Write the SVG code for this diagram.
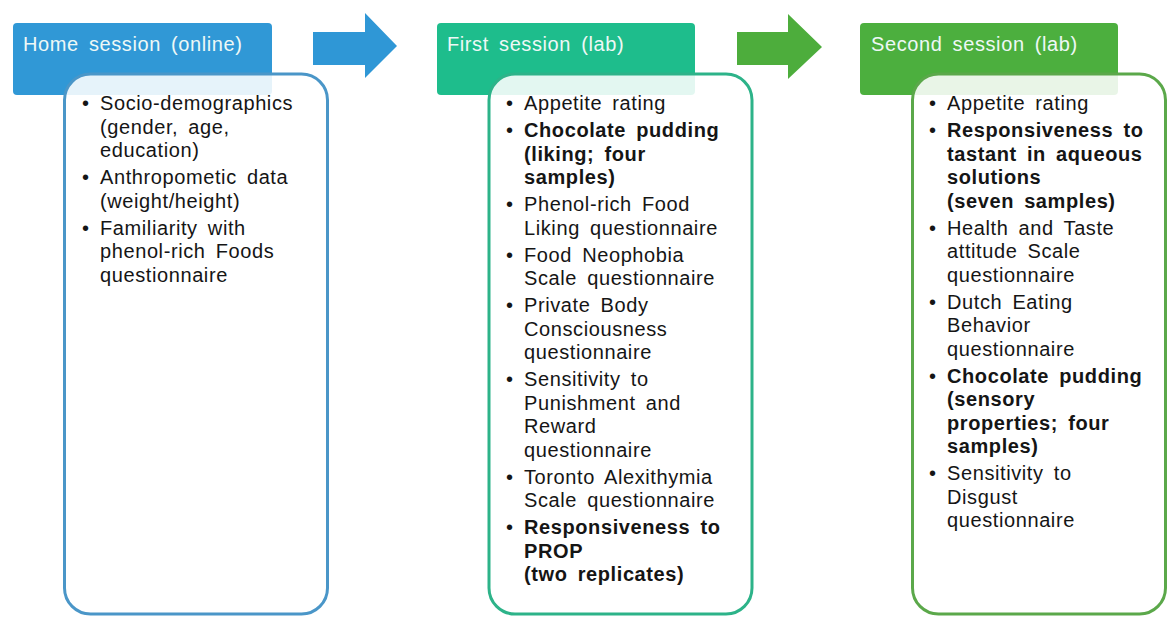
<svg xmlns="http://www.w3.org/2000/svg" width="1169" height="617" viewBox="0 0 1169 617">
<style>
.hd{stroke:none}
.bx{fill:#ffffff;fill-opacity:0.88;stroke-width:3}
.ht{font-family:"Liberation Sans",Arial,sans-serif;font-size:20px;fill:#eef8f6;letter-spacing:0.6px;word-spacing:4px}
.t{font-family:"Liberation Sans",Arial,sans-serif;font-size:20px;fill:#151515;letter-spacing:0.6px;word-spacing:4px}
.b{font-weight:bold}
</style>
<rect width="1169" height="617" fill="#ffffff"/>
<g id="connectors">
  <polygon points="313,32 365,32 365,13 397,46 365,78 365,65 313,65" fill="#2F97D6"/>
  <polygon points="737,32 788,32 788,14 822,47 788,79 788,65 737,65" fill="#4DAD3C"/>
</g>
<g id="home-session">
  <rect class="hd" x="13" y="23" width="259" height="72" rx="4" fill="#3098D6"/>
  <rect class="bx" x="64.5" y="74" width="263" height="540" rx="26" stroke="#4A96C8"/>
  <text class="ht" x="23" y="51">Home session (online)</text>
  <g class="t">
    <text x="82" y="110">•</text><text x="100" y="110">Socio-demographics</text>
    <text x="100" y="133.5">(gender, age,</text>
    <text x="100" y="157">education)</text>
    <text x="82" y="184">•</text><text x="100" y="184">Anthropometic data</text>
    <text x="100" y="207.5">(weight/height)</text>
    <text x="82" y="234.5">•</text><text x="100" y="234.5">Familiarity with</text>
    <text x="100" y="258">phenol-rich Foods</text>
    <text x="100" y="281.5">questionnaire</text>
  </g>
</g>
<g id="first-session">
  <rect class="hd" x="437" y="23" width="258" height="72" rx="4" fill="#1EBD8C"/>
  <rect class="bx" x="489" y="74" width="263" height="540" rx="26" stroke="#2DB389"/>
  <text class="ht" x="447" y="51">First session (lab)</text>
  <g class="t">
    <text x="506" y="110">•</text><text x="524" y="110">Appetite rating</text>
    <text x="506" y="137">•</text><text class="b" x="524" y="137">Chocolate pudding</text>
    <text class="b" x="524" y="160.5">(liking; four</text>
    <text class="b" x="524" y="184">samples)</text>
    <text x="506" y="211">•</text><text x="524" y="211">Phenol-rich Food</text>
    <text x="524" y="234.5">Liking questionnaire</text>
    <text x="506" y="261.5">•</text><text x="524" y="261.5">Food Neophobia</text>
    <text x="524" y="285">Scale questionnaire</text>
    <text x="506" y="312">•</text><text x="524" y="312">Private Body</text>
    <text x="524" y="335.5">Consciousness</text>
    <text x="524" y="359">questionnaire</text>
    <text x="506" y="386">•</text><text x="524" y="386">Sensitivity to</text>
    <text x="524" y="409.5">Punishment and</text>
    <text x="524" y="433">Reward</text>
    <text x="524" y="456.5">questionnaire</text>
    <text x="506" y="483.5">•</text><text x="524" y="483.5">Toronto Alexithymia</text>
    <text x="524" y="507">Scale questionnaire</text>
    <text x="506" y="534">•</text><text class="b" x="524" y="534">Responsiveness to</text>
    <text class="b" x="524" y="557.5">PROP</text>
    <text class="b" x="524" y="581">(two replicates)</text>
  </g>
</g>
<g id="second-session">
  <rect class="hd" x="860" y="23" width="258" height="72" rx="4" fill="#4CAF3E"/>
  <rect class="bx" x="912.5" y="74" width="253" height="540" rx="26" stroke="#5BA84A"/>
  <text class="ht" x="871" y="51">Second session (lab)</text>
  <g class="t">
    <text x="929" y="110">•</text><text x="947" y="110">Appetite rating</text>
    <text x="929" y="137">•</text><text class="b" x="947" y="137">Responsiveness to</text>
    <text class="b" x="947" y="160.5">tastant in aqueous</text>
    <text class="b" x="947" y="184">solutions</text>
    <text class="b" x="947" y="207.5">(seven samples)</text>
    <text x="929" y="234.5">•</text><text x="947" y="234.5">Health and Taste</text>
    <text x="947" y="258">attitude Scale</text>
    <text x="947" y="281.5">questionnaire</text>
    <text x="929" y="308.5">•</text><text x="947" y="308.5">Dutch Eating</text>
    <text x="947" y="332">Behavior</text>
    <text x="947" y="355.5">questionnaire</text>
    <text x="929" y="382.5">•</text><text class="b" x="947" y="382.5">Chocolate pudding</text>
    <text class="b" x="947" y="406">(sensory</text>
    <text class="b" x="947" y="429.5">properties; four</text>
    <text class="b" x="947" y="453">samples)</text>
    <text x="929" y="480">•</text><text x="947" y="480">Sensitivity to</text>
    <text x="947" y="503.5">Disgust</text>
    <text x="947" y="527">questionnaire</text>
  </g>
</g>
</svg>
